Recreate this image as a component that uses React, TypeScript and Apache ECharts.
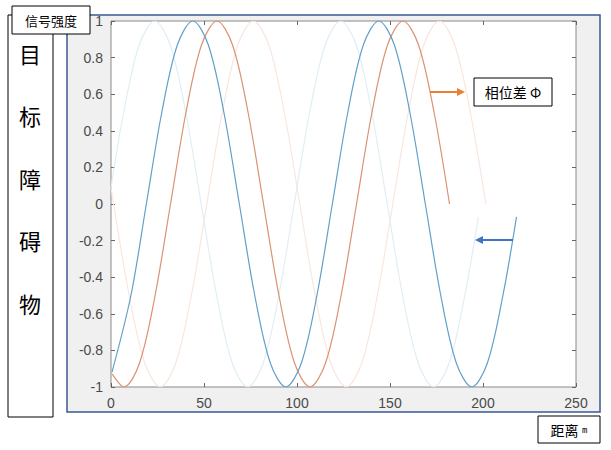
import React, { useEffect, useRef } from 'react';
import * as echarts from 'echarts';

// x positions (distance, m) and signal strength values
const lightBlue: [number, number][] = [
  [0, 0.09], [6.8, 0.5], [15.2, 0.87], [23.5, 1], [31.8, 0.87], [40.2, 0.5], [48.5, 0],
  [56.8, -0.5], [65.2, -0.87], [73.5, -1], [81.8, -0.87], [90.2, -0.5], [98.5, 0],
  [106.8, 0.5], [115.2, 0.87], [123.5, 1], [131.8, 0.87], [140.2, 0.5], [148.5, 0],
  [156.8, -0.5], [165.2, -0.87], [173.5, -1], [181.8, -0.87], [190.2, -0.5], [197.5, -0.07],
];
const lightOrange: [number, number][] = [
  [0, 0.09], [9.8, -0.5], [18.2, -0.87], [26.5, -1], [34.8, -0.87], [43.2, -0.5], [51.5, 0],
  [59.8, 0.5], [68.2, 0.87], [76.5, 1], [84.8, 0.87], [93.2, 0.5], [101.5, 0],
  [109.8, -0.5], [118.2, -0.87], [126.5, -1], [134.8, -0.87], [143.2, -0.5], [151.5, 0],
  [159.8, 0.5], [168.2, 0.87], [176.5, 1], [184.8, 0.87], [193.2, 0.5], [201.5, 0],
];
const darkOrange: [number, number][] = [
  [0.7, -0.93], [7, -1], [15.3, -0.87], [23.7, -0.5], [32, 0], [40.3, 0.5], [48.7, 0.87],
  [57, 1], [65.3, 0.87], [73.7, 0.5], [82, 0], [90.3, -0.5], [98.7, -0.87],
  [107, -1], [115.3, -0.87], [123.7, -0.5], [132, 0], [140.3, 0.5], [148.7, 0.87],
  [157, 1], [165.3, 0.87], [173.7, 0.5], [182, 0],
];
const darkBlue: [number, number][] = [
  [0.5, -0.92], [10.7, -0.5], [19, 0], [27.3, 0.5], [35.7, 0.87], [44, 1], [52.3, 0.87],
  [60.7, 0.5], [69, 0], [77.3, -0.5], [85.7, -0.87], [94, -1], [102.3, -0.87],
  [110.7, -0.5], [119, 0], [127.3, 0.5], [135.7, 0.87], [144, 1], [152.3, 0.87],
  [160.7, 0.5], [169, 0], [177.3, -0.5], [185.7, -0.87], [194, -1], [202.3, -0.87],
  [210.7, -0.5], [218, -0.07],
];
const sideChars = ['目', '标', '障', '碍', '物'];

const labelStyle = {
  color: '#4a4a4a',
  fontSize: 14,
  fontFamily: 'Liberation Sans, Arial, sans-serif',
};
const tickStyle = { show: true, inside: true, length: 4, lineStyle: { color: '#666', width: 1 } };
const hiddenLine = { show: false, onZero: false };

function makeSeries(name: string, data: [number, number][], color: string, z: number) {
  return {
    name,
    type: 'line',
    data,
    smooth: 0.33,
    showSymbol: false,
    z,
    lineStyle: { color, width: 1.2 },
    xAxisIndex: 0,
    yAxisIndex: 0,
  };
}

const cjk = 'Noto Sans CJK SC, sans-serif';

export default function App() {
  const ref = useRef<HTMLDivElement>(null);
  useEffect(() => {
    const chart = echarts.init(ref.current!, null, { renderer: 'svg' });
    const graphics: any[] = [
      {
        type: 'rect', z: -10, silent: true,
        shape: { x: 67, y: 15, width: 533, height: 397 },
        style: { fill: '#f0f0f0', stroke: '#3a5795', lineWidth: 1.5 },
      },
      {
        type: 'rect', z: 50,
        shape: { x: 8, y: 15, width: 45, height: 402 },
        style: { fill: '#fff', stroke: '#000', lineWidth: 1 },
      },
      ...sideChars.map((c, i) => ({
        type: 'text', z: 51,
        style: {
          x: 30, y: 52.5 + i * 62.5, text: c, fontSize: 22, fontFamily: cjk, fill: '#000',
          textAlign: 'center', textVerticalAlign: 'middle',
        },
      })),
      {
        type: 'rect', z: 52,
        shape: { x: 12, y: 6, width: 78, height: 28 },
        style: { fill: '#fff', stroke: '#000', lineWidth: 1 },
      },
      {
        type: 'text', z: 53,
        style: {
          x: 51, y: 20, text: '信号强度', fontSize: 13, fontFamily: cjk, fill: '#000',
          textAlign: 'center', textVerticalAlign: 'middle',
        },
      },
      {
        type: 'rect', z: 52,
        shape: { x: 474, y: 78, width: 78, height: 28 },
        style: { fill: '#fff', stroke: '#000', lineWidth: 1 },
      },
      {
        type: 'text', z: 53,
        style: {
          x: 513, y: 92, text: '相位差 Φ', fontSize: 14, fontFamily: cjk, fill: '#000',
          textAlign: 'center', textVerticalAlign: 'middle',
        },
      },
      {
        type: 'line', z: 52,
        shape: { x1: 430, y1: 92, x2: 458, y2: 92 },
        style: { stroke: '#ed7d31', lineWidth: 2 },
      },
      {
        type: 'polygon', z: 52,
        shape: { points: [[457, 88], [465, 92], [457, 96]] },
        style: { fill: '#ed7d31' },
      },
      {
        type: 'line', z: 52,
        shape: { x1: 482, y1: 240, x2: 513, y2: 240 },
        style: { stroke: '#4472c4', lineWidth: 2 },
      },
      {
        type: 'polygon', z: 52,
        shape: { points: [[483, 236], [475, 240], [483, 244]] },
        style: { fill: '#4472c4' },
      },
      {
        type: 'rect', z: 52,
        shape: { x: 538, y: 416, width: 62, height: 27 },
        style: { fill: '#fff', stroke: '#000', lineWidth: 1 },
      },
      {
        type: 'text', z: 53,
        style: {
          x: 569, y: 430, text: '{a|距离} {b|m}', fill: '#000',
          textAlign: 'center', textVerticalAlign: 'middle',
          rich: {
            a: { fontSize: 14, fontFamily: cjk, fill: '#000' },
            b: { fontSize: 9, fontFamily: 'DejaVu Sans Mono, monospace', fill: '#000' },
          },
        },
      },
    ];
    chart.setOption({
      animation: false,
      backgroundColor: 'transparent',
      grid: {
        left: 111, right: 35, top: 21, bottom: 63,
        show: true, backgroundColor: '#ffffff', borderColor: '#8a8a8a', borderWidth: 1,
      },
      xAxis: [
        {
          type: 'value', min: 0, max: 250, interval: 50, position: 'bottom',
          axisLine: hiddenLine, axisTick: tickStyle, splitLine: { show: false },
          axisLabel: { ...labelStyle, margin: 9 },
        },
        {
          type: 'value', min: 0, max: 250, interval: 50, position: 'top',
          axisLine: hiddenLine, axisTick: tickStyle, splitLine: { show: false },
          axisLabel: { show: false },
        },
      ],
      yAxis: [
        {
          type: 'value', min: -1, max: 1, interval: 0.2, position: 'left',
          axisLine: hiddenLine, axisTick: tickStyle, splitLine: { show: false },
          axisLabel: {
            ...labelStyle, margin: 8,
            formatter: (v: number) => String(Math.round(v * 10) / 10),
          },
        },
        {
          type: 'value', min: -1, max: 1, interval: 0.2, position: 'right',
          axisLine: hiddenLine, axisTick: tickStyle, splitLine: { show: false },
          axisLabel: { show: false },
        },
      ],
      series: [
        makeSeries('lightBlue', lightBlue, '#e0eef5', 2),
        makeSeries('lightOrange', lightOrange, '#f9e6dd', 2),
        makeSeries('darkOrange', darkOrange, '#da9273', 3),
        makeSeries('darkBlue', darkBlue, '#62a0c9', 4),
      ],
      graphic: graphics,
    });
    return () => chart.dispose();
  }, []);
  return (
    <div
      ref={ref}
      style={{ position: 'absolute', left: 0, top: 0, width: 611, height: 450 }}
    />
  );
}
